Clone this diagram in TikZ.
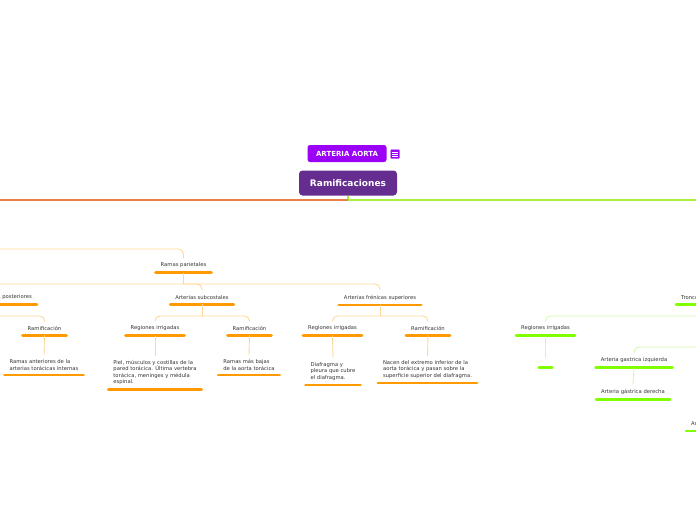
\documentclass[tikz,border=0pt]{standalone}
\usepackage{fontspec}
\setmainfont{DejaVu Sans}
\usetikzlibrary{positioning}
\definecolor{aortavio}{HTML}{9B00F7}
\definecolor{ramivio}{HTML}{662D91}
\definecolor{mainorange}{HTML}{E97F45}
\definecolor{maingreen}{HTML}{A8F040}
\definecolor{barorange}{HTML}{FF9A00}
\definecolor{lineorange}{HTML}{FFD896}
\definecolor{bargreen}{HTML}{80FF00}
\definecolor{linegreen}{HTML}{D4F7AC}
\definecolor{txtgray}{HTML}{333333}

\tikzset{
  topic/.style={font=\fontsize{5.25}{6.4}\selectfont, text=txtgray, align=left,
    inner xsep=5pt, inner ysep=4.5pt},
  obar/.style={topic, append after command={\pgfextra{\let\lastbar\tikzlastnode}
    (\lastbar.south west) edge[draw=barorange, line width=2.6pt, line cap=round] (\lastbar.south east)}},
  gbar/.style={topic, append after command={\pgfextra{\let\lastbar\tikzlastnode}
    (\lastbar.south west) edge[draw=bargreen, line width=2.6pt, line cap=round] (\lastbar.south east)}},
  oline/.style={draw=lineorange, line width=0.9pt, rounded corners=5pt},
  gline/.style={draw=linegreen, line width=0.9pt, rounded corners=5pt},
}

\begin{document}
\begin{tikzpicture}[x=1pt,y=-1pt]
  \useasboundingbox (0,0) rectangle (696,520);
  \clip (0,0) rectangle (696,520);

  % central topic
  \node[fill=aortavio, text=white, font=\fontsize{7}{8}\selectfont\bfseries,
        rounded corners=2.5pt, minimum width=79pt, minimum height=17pt] (aorta) at (347,153.5) {ARTERIA AORTA};
  \node[fill=aortavio, draw=aortavio!60, rounded corners=1pt, minimum size=9pt, inner sep=0pt] (icon) at (395,154) {};
  \foreach \dy in {-2.2,0,2.2}{
     \draw[white, line width=0.6pt] ([xshift=-2.6pt,yshift=\dy pt]icon.center) -- ([xshift=2.6pt,yshift=\dy pt]icon.center);
  }
  \node[fill=ramivio, text=white, font=\fontsize{9}{10}\selectfont\bfseries,
        rounded corners=3.5pt, minimum width=98pt, minimum height=25pt] (ramif) at (348,183) {Ramificaciones};

  % main lines
  \coordinate (hubM) at (ramif.south |- 0,200);
  \coordinate (mainL) at (-5,200);
  \coordinate (mainR) at (705,200);
  \draw[maingreen, line width=1.3pt] (ramif.south) -- (hubM);
  \draw[mainorange, line width=1.4pt] (hubM) -- (mainL);
  \draw[maingreen, line width=1.4pt] (hubM) -- (mainR);

  % ramas parietales
  \node[obar] (parietales) at (183.5,265.5) {Ramas parietales};
  \node[obar, anchor=east] (posteriores) at (37,297.5) {Arterias intercostales posteriores};
  \node[obar] (subcostales) at (202,297.5) {Arterias subcostales};
  \node[obar] (frenicas) at (380,297.5) {Arterias frénicas superiores};

  \node[obar] (ramA) at (44.5,328.5) {Ramificación};
  \node[obar] (anteriores) at (44,365) {Ramas anteriores de la\\arterias torácicas internas};

  \node[obar] (regB) at (155,328.5) {Regiones irrigadas};
  \node[obar] (ramB) at (249.5,328.5) {Ramificación};
  \node[obar] (piel) at (155,372.5) {Piel, músculos y costillas de la\\pared torácica. Última vertebra\\torácica, meninges y médula\\espinal.};
  \node[obar] (bajas) at (249,365) {Ramas más bajas\\de la aorta torácica};

  \node[obar] (regC) at (332.5,328.5) {Regiones irrigadas};
  \node[obar] (ramC) at (428,328.5) {Ramificación};
  \node[obar] (diafragma) at (333,371.5) {Diafragma y\\pleura que cubre\\el diafragma.};
  \node[obar] (nacen) at (427.5,369.5) {Nacen del extremo inferior de la\\aorta torácica y pasan sobre la\\superficie superior del diafragma.};

  \coordinate (izq) at (-20,249);
  \coordinate (hubP) at (parietales.south |- 0,284);
  \coordinate (hubPo) at (posteriores.south |- 0,316);
  \coordinate (hubS) at (subcostales.south |- 0,316);
  \coordinate (hubF) at (frenicas.south |- 0,316);
  \draw[oline] (izq) -| (parietales.north);
  \draw[oline] (parietales.south) -- (hubP);
  \draw[oline] (hubP) -| (posteriores.north);
  \draw[oline] (hubP) -| (subcostales.north);
  \draw[oline] (hubP) -| (frenicas.north);
  \draw[oline] (posteriores.south) -- (hubPo);
  \draw[oline] (hubPo) -| (ramA.north);
  \draw[oline] (subcostales.south) -- (hubS);
  \draw[oline] (hubS) -| (regB.north);
  \draw[oline] (hubS) -| (ramB.north);
  \draw[oline] (frenicas.south) -- (hubF);
  \draw[oline] (hubF) -| (regC.north);
  \draw[oline] (hubF) -| (ramC.north);
  \draw[oline] (ramA.south) -- (anteriores.north);
  \draw[oline] (regB.south) -- (piel.north);
  \draw[oline] (ramB.south) -- (bajas.north);
  \draw[oline] (regC.south) -- (diafragma.north);
  \draw[oline] (ramC.south) -- (nacen.north);

  % tronco celiaco
  \node[gbar, anchor=west] (tronco) at (676,297.5) {Tronco celíaco};
  \node[gbar] (regD) at (545.5,328.5) {Regiones irrigadas};
  \node[gbar, minimum width=13pt] (vacio) at (545.5,362.5) {};
  \node[gbar] (gasIzq) at (634,360.5) {Arteria gastrica izquierda};
  \node[gbar] (gasDer) at (633,392) {Arteria gástrica derecha};
  \node[gbar, anchor=west] (arteriaA) at (686,423.5) {Arteria esplénica};

  \coordinate (hubT) at (tronco.south |- 0,316);
  \coordinate (der) at (710,347);
  \draw[gline] (hubT) -| (regD.north);
  \draw[gline] (regD.south) -- (vacio.north);
  \draw[gline] (der) -| (gasIzq.north);
  \draw[gline] (gasIzq.south) -- (gasDer.north);
\end{tikzpicture}
\end{document}
